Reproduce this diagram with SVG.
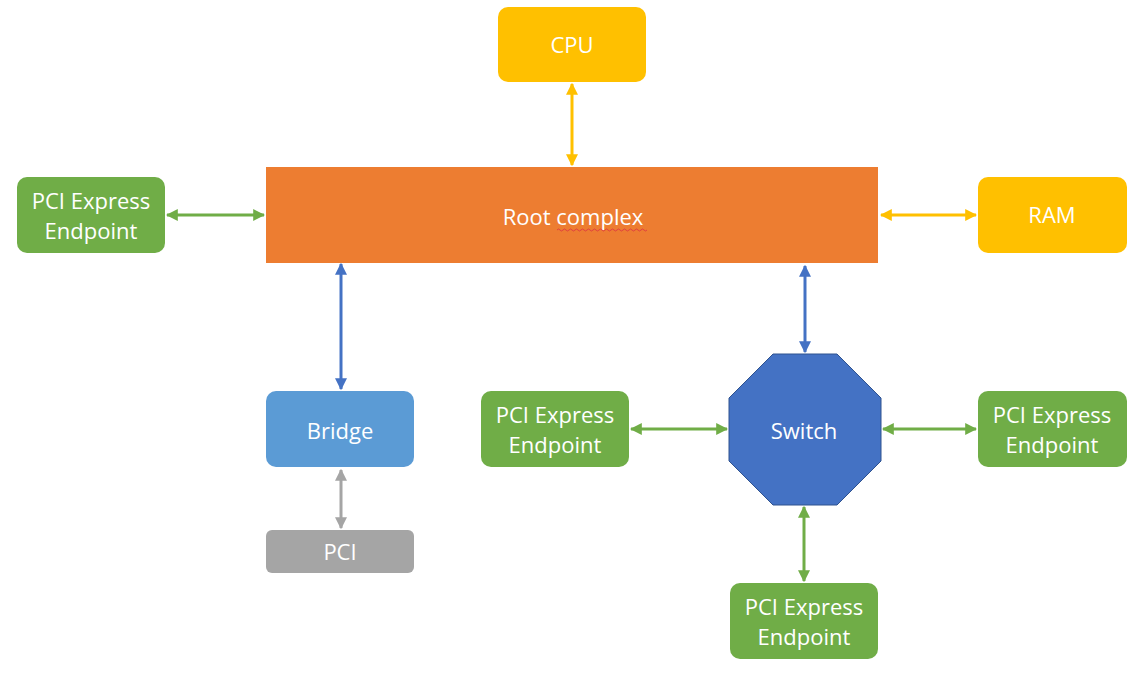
<svg xmlns="http://www.w3.org/2000/svg" width="1143" height="677" viewBox="0 0 1143 677">
<style>
text{font-family:"Open Sans","Noto Sans","DejaVu Sans",sans-serif;font-size:22px;fill:#fff;text-anchor:middle}
.g{fill:#70AD47}.y{fill:#FFC000}.o{fill:#ED7D31}.b{fill:#5B9BD5}.gr{fill:#A5A5A5}
.c{fill:none;stroke-width:3}
</style>
<defs>
<marker id="ay" viewBox="0 0 10 10" refX="9" refY="5" markerWidth="4" markerHeight="4" orient="auto-start-reverse" markerUnits="strokeWidth"><path d="M0,0L10,5L0,10z" fill="#FFC000"/></marker>
<marker id="ag" viewBox="0 0 10 10" refX="9" refY="5" markerWidth="4" markerHeight="4" orient="auto-start-reverse" markerUnits="strokeWidth"><path d="M0,0L10,5L0,10z" fill="#70AD47"/></marker>
<marker id="ab" viewBox="0 0 10 10" refX="9" refY="5" markerWidth="4" markerHeight="4" orient="auto-start-reverse" markerUnits="strokeWidth"><path d="M0,0L10,5L0,10z" fill="#4472C4"/></marker>
<marker id="ar" viewBox="0 0 10 10" refX="9" refY="5" markerWidth="4" markerHeight="4" orient="auto-start-reverse" markerUnits="strokeWidth"><path d="M0,0L10,5L0,10z" fill="#A5A5A5"/></marker>
</defs>
<g id="connectors">
<line class="c" stroke="#FFC000" x1="572" y1="84" x2="572" y2="165" marker-start="url(#ay)" marker-end="url(#ay)"/>
<line class="c" stroke="#70AD47" x1="167" y1="215" x2="264" y2="215" marker-start="url(#ag)" marker-end="url(#ag)"/>
<line class="c" stroke="#FFC000" x1="881" y1="215" x2="976" y2="215" marker-start="url(#ay)" marker-end="url(#ay)"/>
<line class="c" stroke="#4472C4" x1="341" y1="264" x2="341" y2="389" marker-start="url(#ab)" marker-end="url(#ab)"/>
<line class="c" stroke="#4472C4" x1="805" y1="266" x2="805" y2="352" marker-start="url(#ab)" marker-end="url(#ab)"/>
<line class="c" stroke="#A5A5A5" x1="341" y1="470" x2="341" y2="528" marker-start="url(#ar)" marker-end="url(#ar)"/>
<line class="c" stroke="#70AD47" x1="631" y1="429" x2="727" y2="429" marker-start="url(#ag)" marker-end="url(#ag)"/>
<line class="c" stroke="#70AD47" x1="883" y1="429" x2="976" y2="429" marker-start="url(#ag)" marker-end="url(#ag)"/>
<line class="c" stroke="#70AD47" x1="804" y1="507" x2="804" y2="581" marker-start="url(#ag)" marker-end="url(#ag)"/>
</g>
<g id="cpu"><rect class="y" x="498" y="7" width="148" height="75" rx="10"/><text x="572" y="53">CPU</text></g>
<g id="root"><rect class="o" x="266" y="167" width="612" height="96"/><text x="573" y="225">Root complex</text>
<path d="M557,230q1.5,-2 3,0t3,0t3,0t3,0t3,0t3,0t3,0t3,0t3,0t3,0t3,0t3,0t3,0t3,0t3,0t3,0t3,0t3,0t3,0t3,0t3,0t3,0t3,0t3,0t3,0t3,0t3,0t3,0t3,0t3,0" fill="none" stroke="#E04040" stroke-width="1"/></g>
<g id="ram"><rect class="y" x="978" y="177" width="149" height="76" rx="10"/><text x="1052" y="223">RAM</text></g>
<g id="ep-left"><rect class="g" x="17" y="177" width="148" height="76" rx="10"/><text x="91" y="209">PCI Express</text><text x="91" y="239">Endpoint</text></g>
<g id="bridge"><rect class="b" x="266" y="391" width="148" height="76" rx="10"/><text x="340" y="439">Bridge</text></g>
<g id="pci"><rect class="gr" x="266" y="530" width="148" height="43" rx="6"/><text x="340" y="560">PCI</text></g>
<g id="ep-mid"><rect class="g" x="481" y="391" width="148" height="76" rx="10"/><text x="555" y="423">PCI Express</text><text x="555" y="453">Endpoint</text></g>
<g id="switch"><polygon points="773,354 837,354 881,398 881,461 837,505 773,505 729,461 729,398" fill="#4472C4" stroke="#2F528F" stroke-width="1"/><text x="804" y="439">Switch</text></g>
<g id="ep-right"><rect class="g" x="978" y="391" width="149" height="76" rx="10"/><text x="1052" y="423">PCI Express</text><text x="1052" y="453">Endpoint</text></g>
<g id="ep-bottom"><rect class="g" x="730" y="583" width="148" height="76" rx="10"/><text x="804" y="615">PCI Express</text><text x="804" y="645">Endpoint</text></g>
</svg>
